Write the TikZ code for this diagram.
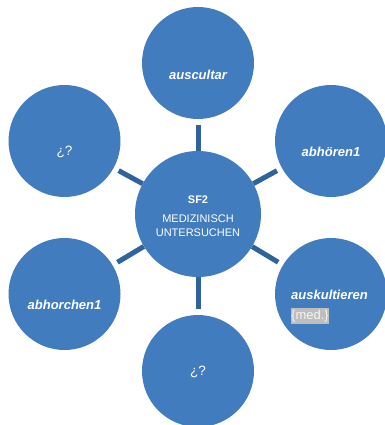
\documentclass[tikz,border=0pt]{standalone}
\usepackage{fontspec}
\setmainfont{Liberation Sans}
\definecolor{bubble}{RGB}{65,124,190}
\definecolor{connc}{RGB}{47,99,156}
\definecolor{medgray}{RGB}{190,190,190}
\begin{document}
\begin{tikzpicture}[x=1pt,y=-1pt,
  bub/.style={circle,fill=bubble,draw=none,minimum size=#1,inner sep=0pt},
  bub/.default=112pt,
  conn/.style={draw=connc,line width=5pt,shorten >=5.5pt},
  lab/.style={text=white,inner sep=0pt,font=\fontsize{13}{15}\selectfont\bfseries\itshape},
  plain/.style={text=white,inner sep=0pt,font=\fontsize{13.5}{15}\selectfont}]
\useasboundingbox (0,0) rectangle (384,425);
\node[bub=126pt] (c) at (198,214) {};
\node[bub] (t) at (198,63) {};
\node[bub] (ur) at (331,141) {};
\node[bub] (lr) at (331,294) {};
\node[bub] (b) at (198,371) {};
\node[bub] (ll) at (64.5,294) {};
\node[bub] (ul) at (64.5,141) {};
\draw[conn] (c) -- (t);
\draw[conn] (c) -- (ur);
\draw[conn] (c) -- (lr);
\draw[conn] (c) -- (b);
\draw[conn] (c) -- (ll);
\draw[conn] (c) -- (ul);
\node[text=white,inner sep=0pt,align=center,font=\fontsize{11}{14}\selectfont] (ct) at (198,216)
  {{\bfseries SF2}\\[5pt]MEDIZINISCH\\UNTERSUCHEN};
\node[lab] (tl) at (198,75) {auscultar};
\node[lab] (url) at (331,152) {abhören1};
\node[lab,anchor=west] (lrl) at (291,295) {auskultieren};
\node[anchor=west,inner sep=0pt,font=\fontsize{13}{15}\selectfont] (lrm) at (290.5,316)
  {\setlength{\fboxsep}{0.5pt}\colorbox{medgray}{\textcolor{white!92!gray}{\strut\{med.\}}}};
\node[plain] (bl) at (198,372) {¿?};
\node[lab] (lll) at (64.5,305) {abhorchen1};
\node[plain] (ull) at (64.5,152) {¿?};
\end{tikzpicture}
\end{document}
